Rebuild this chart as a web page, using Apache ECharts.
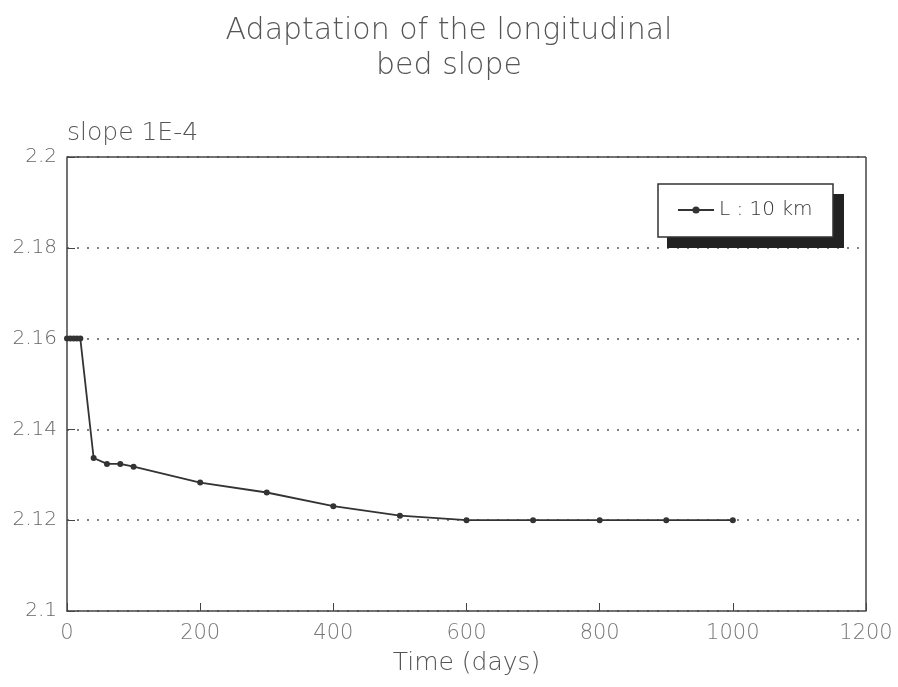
<!DOCTYPE html>
<html>
<head>
<meta charset="utf-8">
<script src="https://cdn.jsdelivr.net/npm/echarts@6/dist/echarts.min.js"></script>
<style>html,body{margin:0;padding:0;background:#fff}#c{width:898px;height:687px}</style>
</head>
<body>
<div id="c"></div>
<script>
const days = [0, 5, 10, 15, 20, 40, 60, 80, 100, 200, 300, 400, 500, 600, 700, 800, 900, 1000];
const slope = [2.16, 2.16, 2.16, 2.16, 2.16, 2.1337, 2.1324, 2.1324, 2.1318, 2.1283, 2.1261, 2.1231, 2.1210, 2.12, 2.12, 2.12, 2.12, 2.12];
const seriesName = 'L : 10 km';
const titleText = 'Adaptation of the longitudinal\nbed slope';
const yUnitLabel = 'slope 1E-4';
const xAxisName = 'Time (days)';

const font = '"DejaVu Sans", sans-serif';
const chart = echarts.init(document.getElementById('c'));
chart.setOption({
  backgroundColor: '#fff',
  animation: false,
  title: {
    text: titleText,
    left: 'center',
    top: 9,
    textStyle: { fontFamily: font, fontSize: 30, fontWeight: 200, color: '#555', lineHeight: 35 }
  },
  graphic: [
    { type: 'rect', shape: { x: 667, y: 194, width: 177, height: 54 }, style: { fill: '#222' }, z: 10 },
    { type: 'rect', shape: { x: 658, y: 184, width: 175, height: 53 }, style: { fill: '#fff', stroke: '#333', lineWidth: 1.5 }, z: 11 },
    { type: 'text', left: 67, top: 121, style: { text: yUnitLabel, font: '200 25px ' + font, fill: '#555' } }
  ],
  legend: {
    left: 677,
    top: 200,
    padding: 0,
    itemWidth: 36,
    itemHeight: 9,
    itemGap: 8,
    z: 20,
    textStyle: { fontFamily: font, fontSize: 20, fontWeight: 200, color: '#333' },
    data: [seriesName]
  },
  grid: { left: 67, right: 32, top: 157, bottom: 76, show: false },
  xAxis: {
    type: 'value',
    min: 0, max: 1200, interval: 200,
    name: xAxisName,
    nameLocation: 'middle',
    nameGap: 40,
    nameTextStyle: { fontFamily: font, fontSize: 25, fontWeight: 200, color: '#555' },
    axisLine: { show: true, onZero: false, lineStyle: { color: '#444', width: 1.5 } },
    axisTick: { show: true, inside: true, length: 8, lineStyle: { color: '#444' } },
    axisLabel: { fontFamily: font, fontSize: 21, fontWeight: 200, color: '#777', margin: 12, formatter: v => String(v) },
    splitLine: { show: false }
  },
  yAxis: {
    type: 'value',
    min: 2.1, max: 2.2, interval: 0.02,
    axisLine: { show: true, lineStyle: { color: '#444', width: 1.5 } },
    axisTick: { show: true, inside: true, length: 8, lineStyle: { color: '#444' } },
    axisLabel: { fontFamily: font, fontSize: 20, fontWeight: 200, color: '#666', margin: 10, formatter: v => String(+v.toFixed(2)) },
    splitLine: { show: true, lineStyle: { color: '#555', type: [2, 8], width: 1.5 } }
  },
  series: [
    {
      name: seriesName,
      type: 'line',
      data: days.map((d, i) => [d, slope[i]]),
      symbol: 'circle',
      symbolSize: 6,
      lineStyle: { color: '#333', width: 1.8 },
      itemStyle: { color: '#333' },
      markLine: {
        silent: true, symbol: 'none', label: { show: false },
        lineStyle: { color: '#444', type: 'solid', width: 1.5 },
        data: [
          [{ coord: [0, 2.2] }, { coord: [1200, 2.2] }],
          [{ coord: [1200, 2.1] }, { coord: [1200, 2.2] }]
        ]
      }
    }
  ]
});
</script>
</body>
</html>
